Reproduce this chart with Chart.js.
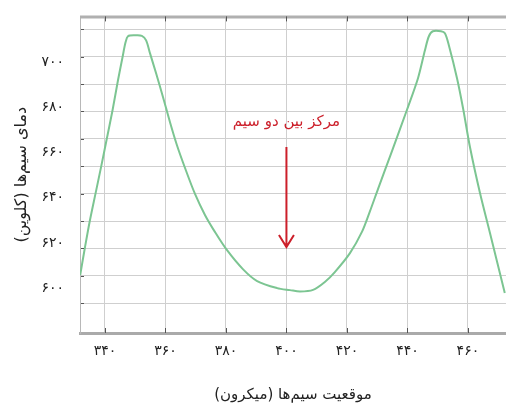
<!DOCTYPE html>
<html lang="fa">
<head>
<meta charset="utf-8">
<script src="https://cdn.jsdelivr.net/npm/chart.js@4.4.1/dist/chart.umd.min.js"></script>
<style>
  html, body { margin: 0; padding: 0; background: #fff; }
  #wrap { width: 506px; height: 408px; }
</style>
</head>
<body>
<div id="wrap"><canvas id="tempChart" dir="rtl" width="506" height="408"></canvas></div>
<script>
// موقعیت (میکرون) و دما (کلوین) خوانده شده از نمودار
const positions = [331.8, 333.4, 334.9, 336.9, 338.7, 340.5, 342.5, 344.3, 345.8, 346.8, 347.6, 349.9,
  352.2, 353.6, 354.9, 356.9, 359.2, 361.5, 363.8, 366.5, 369.8, 373.1, 376.4, 380.3, 385.6, 390.3,
  396.9, 401.2, 404.5, 408.8, 412.7, 416.0, 421.0, 425.0, 427.6, 430.3, 434.9, 439.8, 443.5, 445.8,
  447.1, 448.4, 451.1, 452.4, 453.7, 456.4, 458.4, 460.7, 464.0, 467.3, 472.2];
const temps = [605.8, 618.2, 629.2, 642.1, 653.6, 665.5, 678.8, 692.1, 702.3, 708.9, 711.6, 712.0,
  711.8, 709.8, 704.0, 695.2, 684.6, 673.5, 663.3, 653.1, 641.6, 632.3, 624.8, 616.9, 608.4, 603.1,
  600.0, 599.1, 598.5, 599.2, 602.7, 607.1, 615.5, 625.0, 634.0, 644.0, 660.7, 678.8, 693.0, 705.4,
  711.6, 713.8, 713.8, 712.9, 707.6, 693.0, 679.7, 662.4, 642.1, 624.4, 597.8];

const xTickValues = [340, 360, 380, 400, 420, 440, 460];
const xTickLabels = ['۳۴۰', '۳۶۰', '۳۸۰', '۴۰۰', '۴۲۰', '۴۴۰', '۴۶۰'];
const yTickValues = [600, 620, 640, 660, 680, 700];
const yTickLabels = ['۶۰۰', '۶۲۰', '۶۴۰', '۶۶۰', '۶۸۰', '۷۰۰'];
// خطوط افقی شبکه با فاصله‌ای جدا از برچسب‌ها
const gridValues = [593.3, 605.4, 617.6, 629.7, 641.9, 654.0, 666.1, 678.3, 690.4, 702.6, 714.7];

const markerX = 400;
const markerTop = 662.5;
const markerBottom = 618.2;
const markerTextY = 673.5;
const markerText = 'مرکز بین دو سیم';

const FONT = 'DejaVu Sans';

// فلش قرمز و قاب دور نمودار
const markerPlugin = {
  id: 'marker',
  afterDatasetsDraw(chart) {
    const { ctx, scales } = chart;
    const x = scales.x.getPixelForValue(markerX);
    const y1 = scales.y.getPixelForValue(markerTop);
    const y2 = scales.y.getPixelForValue(markerBottom);
    ctx.save();
    ctx.strokeStyle = '#cc1f2a';
    ctx.lineWidth = 2;
    ctx.beginPath();
    ctx.moveTo(x, y1);
    ctx.lineTo(x, y2);
    ctx.moveTo(x - 7.5, y2 - 12);
    ctx.lineTo(x, y2);
    ctx.lineTo(x + 7.5, y2 - 12);
    ctx.stroke();
    ctx.fillStyle = '#cc1f2a';
    ctx.font = '15px "' + FONT + '"';
    ctx.textAlign = 'center';
    ctx.textBaseline = 'middle';
    ctx.fillText(markerText, x, scales.y.getPixelForValue(markerTextY));
    ctx.restore();
  },
  afterDraw(chart) {
    const { ctx, chartArea, scales } = chart;
    ctx.save();
    ctx.strokeStyle = '#b0b0b0';
    ctx.lineWidth = 3;
    ctx.beginPath();
    ctx.moveTo(chartArea.left, chartArea.top + 0.5);
    ctx.lineTo(chartArea.right, chartArea.top + 0.5);
    ctx.stroke();
    ctx.strokeStyle = '#555';
    ctx.lineWidth = 1;
    ctx.beginPath();
    xTickValues.forEach(v => {
      const px = Math.round(scales.x.getPixelForValue(v)) + 0.5;
      ctx.moveTo(px, chartArea.top);
      ctx.lineTo(px, chartArea.top + 5);
      ctx.moveTo(px, chartArea.bottom - 5);
      ctx.lineTo(px, chartArea.bottom);
    });
    gridValues.forEach(v => {
      const py = Math.round(scales.y.getPixelForValue(v)) + 0.5;
      ctx.moveTo(chartArea.left + 1, py);
      ctx.lineTo(chartArea.left + 4, py);
    });
    ctx.stroke();
    ctx.restore();
  }
};

new Chart(document.getElementById('tempChart'), {
  type: 'line',
  data: {
    datasets: [{
      data: positions.map((p, i) => ({ x: p, y: temps[i] })),
      borderColor: '#7cc592',
      borderWidth: 2,
      pointRadius: 0,
      tension: 0.3,
      fill: false
    }]
  },
  options: {
    responsive: false,
    animation: false,
    layout: { padding: { top: 16, left: 0, right: 0, bottom: 0 } },
    plugins: { legend: { display: false }, tooltip: { enabled: false } },
    scales: {
      x: {
        type: 'linear',
        min: 331.74,
        max: 472.6,
        afterBuildTicks: s => { s.ticks = xTickValues.map(v => ({ value: v })); },
        afterFit: s => { s.height = 75; },
        ticks: {
          callback: (v, i) => xTickLabels[i],
          padding: 10,
          maxRotation: 0,
          autoSkip: false,
          color: '#222',
          font: { family: FONT, size: 14 }
        },
        grid: { color: '#cfcfcf', lineWidth: 1, drawTicks: false },
        border: { color: '#aaaaaa', width: 3 },
        title: {
          display: true,
          text: 'موقعیت سیم‌ها (میکرون)',
          color: '#222',
          font: { family: FONT, size: 15 },
          padding: { top: 0, bottom: 4 }
        }
      },
      y: {
        type: 'linear',
        position: 'left',
        min: 580.1,
        max: 720.4,
        afterBuildTicks: s => { s.ticks = yTickValues.map(v => ({ value: v })); },
        afterFit: s => { s.width = 80; },
        ticks: {
          callback: (v, i) => yTickLabels[i],
          padding: 8,
          color: '#222',
          font: { family: FONT, size: 14 }
        },
        grid: { display: false },
        border: { color: '#b8b8b8', width: 1 },
        title: {
          display: true,
          text: 'دمای سیم‌ها (کلوین)',
          color: '#222',
          font: { family: FONT, size: 16 },
          padding: { top: 12, bottom: 0 }
        }
      },
      yGrid: {
        type: 'linear',
        position: 'left',
        min: 580.1,
        max: 720.4,
        afterBuildTicks: s => { s.ticks = gridValues.map(v => ({ value: v })); },
        afterFit: s => { s.width = 0; },
        ticks: { display: false },
        grid: { color: '#cfcfcf', lineWidth: 1, drawTicks: false },
        border: { display: false }
      }
    }
  },
  plugins: [markerPlugin]
});
</script>
</body>
</html>
